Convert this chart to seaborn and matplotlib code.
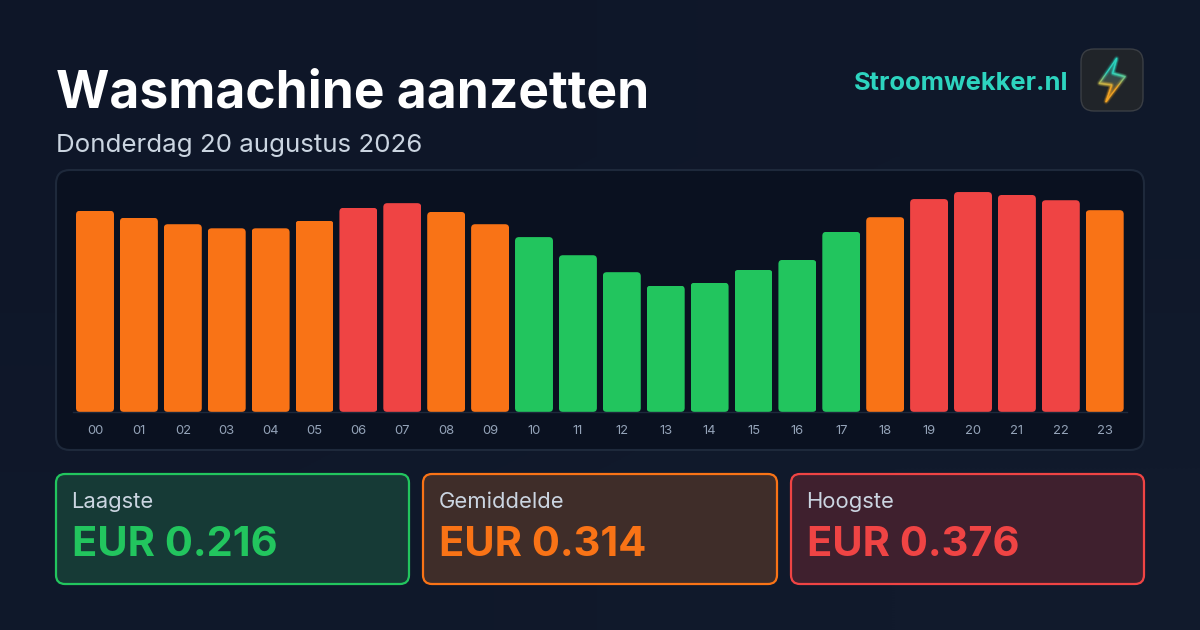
import numpy as np
import pandas as pd
import seaborn as sns
import matplotlib
matplotlib.use("Agg")
import matplotlib.pyplot as plt
from matplotlib.patches import FancyBboxPatch, Polygon
from matplotlib.collections import LineCollection
from matplotlib.colors import LinearSegmentedColormap

hours = ["00","01","02","03","04","05","06","07","08","09","10","11",
         "12","13","14","15","16","17","18","19","20","21","22","23"]
prices = [0.344,0.332,0.321,0.314,0.314,0.327,0.349,0.357,0.342,0.321,0.299,0.268,
          0.239,0.216,0.221,0.243,0.260,0.308,0.333,0.364,0.376,0.371,0.362,0.345]
levels = ["m","m","m","m","m","m","h","h","m","m","l","l",
          "l","l","l","l","l","l","m","h","h","h","h","m"]
level_colors = {"l":"#22c55e","m":"#f97316","h":"#ef4444"}

title = "Wasmachine aanzetten"
subtitle = "Donderdag 20 augustus 2026"
brand = "Stroomwekker.nl"
card_labels = ["Laagste","Gemiddelde","Hoogste"]
card_values = ["EUR 0.216","EUR 0.314","EUR 0.376"]

W, H = 1200, 630
sns.set_theme(style="dark")
plt.rcParams['font.family'] = ['Inter', 'DejaVu Sans']
px = 0.72

fig = plt.figure(figsize=(12, 6.3), dpi=100)
bg = fig.add_axes([0, 0, 1, 1], zorder=0)
bg.set_xlim(0, W); bg.set_ylim(H, 0); bg.axis("off")

# page background
grad = np.array([[0.0, 0.5], [0.5, 1.0]])
cm_bg = LinearSegmentedColormap.from_list("bg", ["#0e1628", "#111a2c"])
bg.imshow(grad, extent=(0, W, H, 0), cmap=cm_bg, aspect="auto", interpolation="bilinear", zorder=0)
bg.set_xlim(0, W); bg.set_ylim(H, 0)

def rbox(x0, y0, x1, y1, r, **kw):
    p = FancyBboxPatch((x0 + r, y0 + r), x1 - x0 - 2*r, y1 - y0 - 2*r,
                       boxstyle=f"round,pad={r},rounding_size={r}", **kw)
    bg.add_patch(p)
    return p

# chart panel
rbox(56, 170, 1144, 450, 14, fc="#0a1120", ec="#1e293b", lw=1.5, zorder=1)

# texts
bg.text(56.5, 108, title, color="white", fontsize=51.5*px, fontweight="bold", zorder=3)
bg.text(56, 152, subtitle, color="#cbd5e1", fontsize=25.9*px, zorder=3)
bg.text(1068, 90, brand, color="#2dd4bf", fontsize=25.5*px, fontweight="bold", ha="right", zorder=3)

# logo
rbox(1081, 49, 1143, 111, 13, fc="#202429", ec="#3a3e44", lw=1, zorder=2)
bolt = np.array([[1116.7,58.3],[1099.3,83.3],[1111.7,85],[1106,101.7],[1125,76.7],[1112.7,73.3],[1116.7,58.3]])
cm_bolt = LinearSegmentedColormap.from_list("bolt", ["#2dd4bf", "#2dd4bf", "#f5a623", "#f5a623"])
pts = np.vstack([np.linspace(bolt[i], bolt[i+1], 20) for i in range(len(bolt)-1)])
segs = np.stack([pts[:-1], pts[1:]], axis=1)
tone = (segs[:, :, 1].mean(axis=1) - 58) / 44
for lw, a in [(4, 0.05), (2.6, 0.09), (1.6, 0.16), (0.7, 1.0)]:
    lc = LineCollection(segs, array=tone, cmap=cm_bolt, clim=(0, 1), linewidths=lw, alpha=a,
                        capstyle="round", joinstyle="round", zorder=2.3)
    bg.add_collection(lc)
cm_fill = LinearSegmentedColormap.from_list("boltfill", ["#1a5a5c", "#3a4a48", "#8a5c28"])
im = bg.imshow(np.linspace(0, 1, 64)[:, None], extent=(1095, 1128, 103, 57), cmap=cm_fill,
               aspect="auto", zorder=2.2)
clip = Polygon(bolt, closed=True, transform=bg.transData, fc="none", ec="none")
bg.add_patch(clip)
im.set_clip_path(clip)
bg.set_xlim(0, W); bg.set_ylim(H, 0)

# stat cards
cards = [(56, 409, "#22c55e", "#163a36"), (423, 777, "#f97316", "#3f2d29"), (791, 1144, "#ef4444", "#3f202e")]
for (x0, x1, c, fc), lab, val in zip(cards, card_labels, card_values):
    rbox(x0, 474, x1, 584, 9, fc=fc, ec=c, lw=1.6, zorder=2)
    bg.text(x0 + 15.5, 508, lab, color="#cbd5e1", fontsize=22*px, zorder=3)
    bg.text(x0 + 16, 556, val, color=c, fontsize=41.6*px, fontweight="bold", zorder=3)

# bars
ax = fig.add_axes([73.05/W, 1 - 412/H, 1053.6/W, (412-170)/H], zorder=1)
ax.patch.set_alpha(0)
df = pd.DataFrame({"hour": hours, "price": prices, "level": levels})
sns.barplot(data=df, x="hour", y="price", hue="level", palette=level_colors, dodge=False,
            legend=False, width=0.865, saturation=1, linewidth=0, ax=ax)
ax.set_ylim(0, 242/585)
ax.set_xlim(-0.5, 23.5)
ax.set_xlabel(""); ax.set_ylabel(""); ax.set_yticks([])
ax.tick_params(axis="x", length=0, pad=9, labelsize=13*px, labelcolor="#94a3b8")
for s in ax.spines.values():
    s.set_visible(False)
ax.spines["bottom"].set_visible(True)
ax.spines["bottom"].set_color("#1e293b")
ax.spines["bottom"].set_linewidth(1)
ax.grid(False)

# round the bar corners
fig.canvas.draw()
to_px = bg.transData.inverted()
for bar in ax.patches:
    if bar.get_height() <= 0:
        continue
    bb = bar.get_window_extent().transformed(to_px)
    x0, x1 = sorted((bb.x0, bb.x1)); y0, y1 = sorted((bb.y0, bb.y1))
    r = 4
    cp = FancyBboxPatch((x0 + r, y0 + r), x1 - x0 - 2*r, y1 - y0 - 2*r,
                        boxstyle=f"round,pad={r},rounding_size={r}",
                        transform=bg.transData, fc="none", ec="none")
    bar.set_clip_path(cp)

fig.savefig("out.png", dpi=100)
